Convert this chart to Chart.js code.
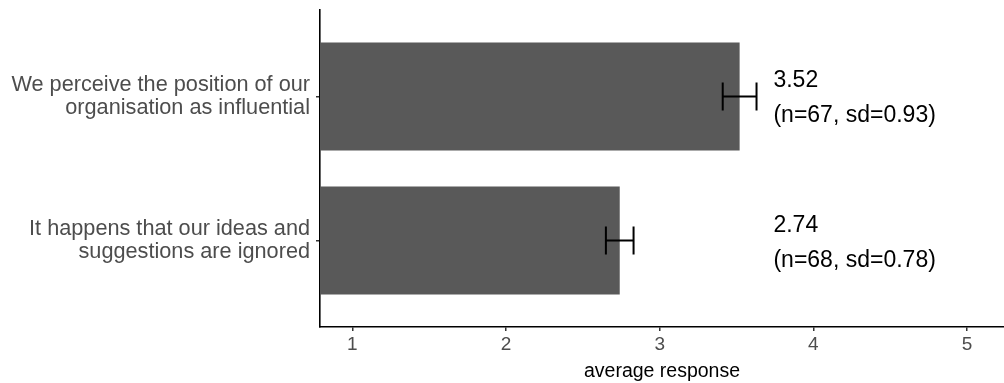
<!DOCTYPE html>
<html lang="en">
<head>
<meta charset="UTF-8">
<title>Average response</title>
<script src="https://cdn.jsdelivr.net/npm/chart.js"></script>
<style>
    html, body {
        margin: 0;
        padding: 0;
        background: #ffffff;
    }
    #chart {
        display: block;
    }
</style>
</head>
<body>
<canvas id="chart" width="1004" height="383"></canvas>
<script>
    const statements = [
        ['We perceive the position of our', 'organisation as influential'],
        ['It happens that our ideas and', 'suggestions are ignored']
    ];
    const means = [3.52, 2.74];
    const errLow = [3.41, 2.65];
    const errHigh = [3.63, 2.83];
    const counts = [67, 68];
    const sds = [0.93, 0.78];
    const xTicks = [1, 2, 3, 4, 5];
    const labelAt = 3.74;

    const FONT = '"Liberation Sans", Arial, Helvetica, sans-serif';

    // error bars + "mean (n, sd)" text next to each bar
    const errorBars = {
        id: 'errorBars',
        afterDatasetsDraw(chart) {
            const {ctx, scales: {x, y}} = chart;
            ctx.save();
            ctx.strokeStyle = '#000';
            ctx.lineWidth = 2;
            ctx.fillStyle = '#000';
            ctx.font = '23px ' + FONT;
            ctx.textAlign = 'left';
            ctx.textBaseline = 'alphabetic';
            means.forEach((m, i) => {
                const cy = y.getPixelForValue(i + 1);
                const x0 = x.getPixelForValue(errLow[i]);
                const x1 = x.getPixelForValue(errHigh[i]);
                ctx.beginPath();
                ctx.moveTo(x0, cy); ctx.lineTo(x1, cy);
                ctx.moveTo(x0, cy - 14); ctx.lineTo(x0, cy + 14);
                ctx.moveTo(x1, cy - 14); ctx.lineTo(x1, cy + 14);
                ctx.stroke();
                const tx = x.getPixelForValue(labelAt);
                ctx.fillText(m.toFixed(2), tx, cy - 9);
                ctx.fillText(`(n=${counts[i]}, sd=${sds[i].toFixed(2)})`, tx, cy + 26);
            });
            ctx.restore();
        }
    };

    new Chart(document.getElementById('chart'), {
        type: 'bar',
        data: {
            datasets: [{
                data: means.map((m, i) => ({x: m, y: i + 1})),
                backgroundColor: '#595959',
                barPercentage: 0.75,
                categoryPercentage: 1,
                clip: 0
            }]
        },
        options: {
            indexAxis: 'y',
            responsive: false,
            animation: false,
            layout: {padding: {top: 10, left: 0, right: 0, bottom: 0}},
            plugins: {legend: {display: false}, tooltip: {enabled: false}},
            scales: {
                x: {
                    type: 'linear',
                    min: 0.79,
                    max: 5.24,
                    z: 1,
                    afterBuildTicks: s => { s.ticks = xTicks.map(v => ({value: v})); },
                    ticks: {font: {family: FONT, size: 19}, color: '#4d4d4d', padding: 2},
                    grid: {drawOnChartArea: false, tickLength: 4, color: '#333', lineWidth: 1.5},
                    border: {color: '#000', width: 1.6},
                    title: {
                        display: true,
                        text: 'average response',
                        color: '#000',
                        font: {family: FONT, size: 19.5},
                        padding: {top: 0, bottom: 0}
                    },
                    afterFit: s => { s.height = 56; s.paddingLeft = 0; s.paddingRight = 0; }
                },
                y: {
                    type: 'linear',
                    reverse: true,
                    offset: false,
                    min: 0.4,
                    max: 2.6,
                    z: 1,
                    afterBuildTicks: s => { s.ticks = statements.map((_, i) => ({value: i + 1})); },
                    ticks: {
                        callback: v => statements[v - 1],
                        font: {family: FONT, size: 21.7, lineHeight: 1.06},
                        color: '#4d4d4d',
                        padding: 6
                    },
                    grid: {offset: false, drawOnChartArea: false, tickLength: 4, color: '#333', lineWidth: 1.5},
                    border: {color: '#000', width: 1.6},
                    afterFit: s => { s.width = 320; s.paddingTop = 0; s.paddingBottom = 0; }
                }
            }
        },
        plugins: [errorBars]
    });
</script>
</body>
</html>
